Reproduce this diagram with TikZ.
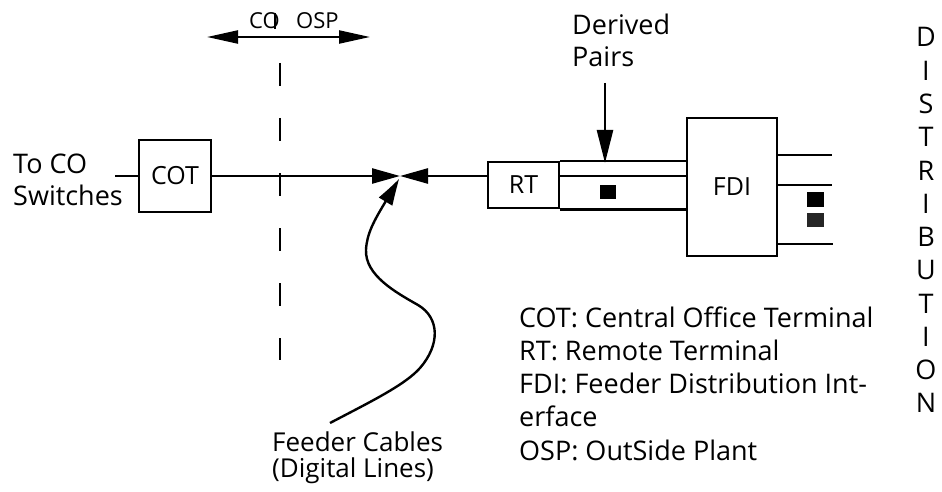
\documentclass[tikz,border=0pt]{standalone}
\usepackage{fontspec}
\setmainfont{Open Sans}
\usetikzlibrary{arrows.meta,bending}
\begin{document}
\begin{tikzpicture}[x=1pt,y=-1pt,
  txt/.style={font=\fontsize{27}{33}\selectfont, inner sep=0pt},
  box/.style={draw, line width=2.5pt, inner sep=0pt, font=\fontsize{25}{33}\selectfont},
  ln/.style={line width=2.5pt},
  tip/.style={-{Triangle[length=28pt,width=15pt]}},
  dtip/.style={{Triangle[length=31pt,width=13pt]}-{Triangle[length=31pt,width=13pt]}},
  blk/.style={fill=black, draw=none}]
\useasboundingbox[fill=white] (0,0) rectangle (942,492);

% boxes
\node[box, minimum width=72pt, minimum height=72pt] (cot) at (175,176) {COT};
\node[box, minimum width=71pt, minimum height=46pt] (rt) at (523.5,185) {RT};
\node[box, minimum width=90pt, minimum height=138pt] (fdi) at (732,187) {FDI};

% left labels
\node[txt, anchor=base west] (toco) at (13,173) {To CO};
\node[txt, anchor=base west] (sw) at (13,205) {Switches};
\coordinate (cin) at (115,176);
\draw[ln] (cin) -- (cot.west);

% CO | OSP
\node[txt, font=\fontsize{22}{25}\selectfont, anchor=base west] (co) at (249,29) {CO};
\coordinate (bart) at (275,13);
\coordinate (barb) at (275,29);
\draw[line width=2.2pt] (bart) -- (barb);
\node[txt, font=\fontsize{22}{25}\selectfont, anchor=base west] (osp) at (296,29) {OSP};
\coordinate (dal) at (207,37);
\coordinate (dar) at (370,37);
\draw[line width=2.2pt, dtip] (dal) -- (dar);

% dashed boundary
\coordinate (dtop) at (280,63);
\coordinate (dbot) at (280,360);
\draw[line width=2.8pt, dash pattern=on 23pt off 32pt] (dtop) -- (dbot);

% feeder junction
\coordinate (j) at (400,176);
\draw[ln, tip] (cot.east) -- (j);
\draw[ln, tip] (j -| rt.west) -- (j);

% feeder cable curve
\node[txt, font=\fontsize{26}{30}\selectfont, anchor=base west] (fc1) at (272,451) {Feeder Cables};
\node[txt, font=\fontsize{26}{30}\selectfont, anchor=base west] (fc2) at (272,477) {(Digital Lines)};
\coordinate (fcs) at (330,423);
\draw[line width=2.4pt, -{Triangle[length=28pt,width=15pt,bend]}] (fcs)
  .. controls (370,402) and (405,385) .. (420,368)
  .. controls (440,345) and (440,318) .. (418,305)
  .. controls (395,292) and (365,275) .. (366,250)
  .. controls (367,228) and (380,212) .. (399,179);

% derived pairs
\draw[ln] (rt.north east) -- (rt.north east -| fdi.west);
\draw[ln] (rt.east |- 0,176) -- (fdi.west |- 0,176);
\draw[ln] (rt.south east) -- (rt.south east -| fdi.west);
\fill[blk] (600,185) rectangle (616,199);
\node[txt, anchor=base west] (der) at (572,35) {Derived};
\node[txt, anchor=base west] (pai) at (572,67) {Pairs};
\coordinate (dps) at (605,83);
\coordinate (dpe) at (605,163);
\draw[ln, -{Triangle[length=33pt,width=16pt]}] (dps) -- (dpe);

% distribution lines
\coordinate (o1) at (832,155);
\coordinate (o2) at (832,185);
\coordinate (o3) at (833,244);
\draw[ln] (fdi.east |- o1) -- (o1);
\draw[ln] (fdi.east |- o2) -- (o2);
\draw[ln] (fdi.east |- o3) -- (o3);
\fill[blk] (807,192) rectangle (824,207);
\fill[black!85] (807,213) rectangle (824,227);

% vertical DISTRIBUTION
\foreach \l [count=\i] in {D,I,S,T,R,I,B,U,T,I,O,N}
  \node[txt, anchor=base] (d\i) at (926,{47+33.27*(\i-1)}) {\l};

% legend
\node[txt, anchor=base west] (lg1) at (519,327) {COT: Central Office Terminal};
\node[txt, anchor=base west] (lg2) at (519,360.25) {RT: Remote Terminal};
\node[txt, anchor=base west] (lg3) at (519,393.5) {FDI: Feeder Distribution Int-};
\node[txt, anchor=base west] (lg4) at (519,426.75) {erface};
\node[txt, anchor=base west] (lg5) at (519,460) {OSP: OutSide Plant};
\end{tikzpicture}
\end{document}
